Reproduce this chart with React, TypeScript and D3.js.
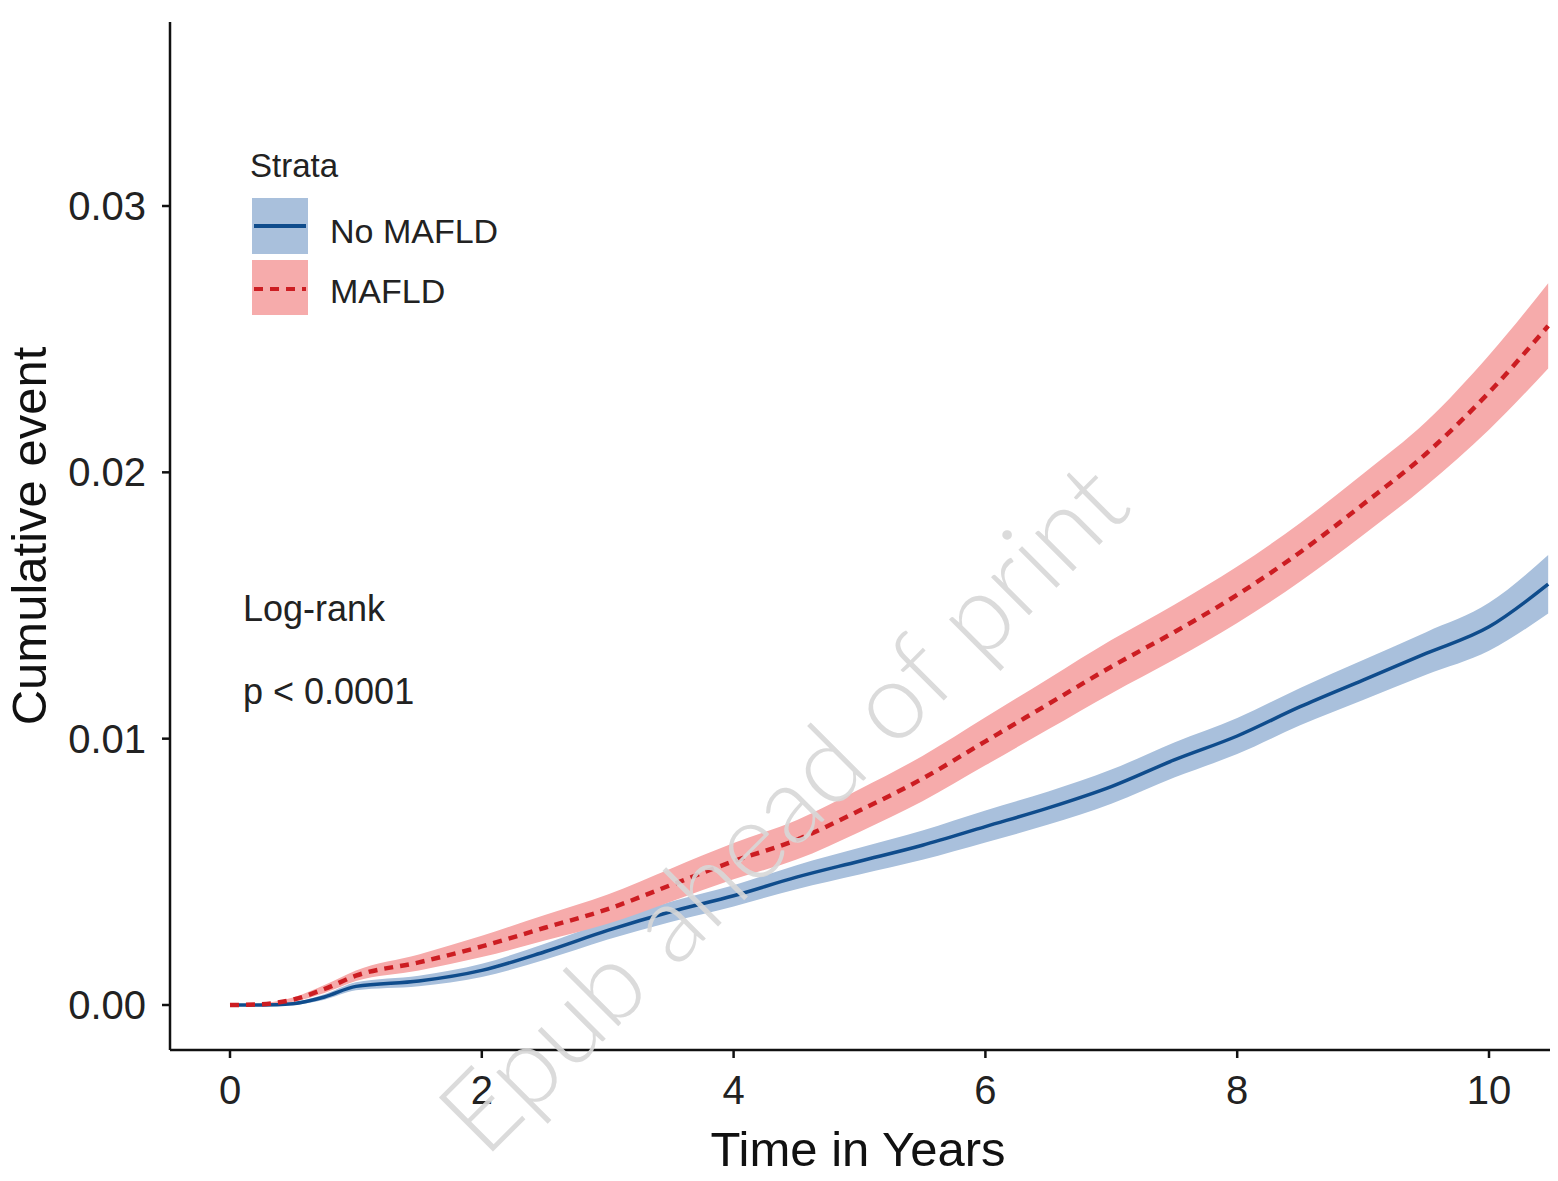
import React from "react";
import * as d3 from "d3";

const times = [0, 0.25, 0.5, 0.75, 1, 1.5, 2, 2.5, 3, 3.5, 4, 4.5, 5, 5.5, 6, 6.5, 7, 7.5, 8, 8.5, 9, 9.5, 10, 10.47];

const noMafld = [0, 0, 0.00005, 0.0003, 0.0007, 0.0009, 0.0013, 0.002, 0.0028, 0.0035, 0.0041, 0.0048, 0.0054, 0.006, 0.0067, 0.0074, 0.0082, 0.0092, 0.0101, 0.0112, 0.0122, 0.0132, 0.0142, 0.0158];
const noMafldLow = [0, 0, 0.00001, 0.0002, 0.00055, 0.0007, 0.00105, 0.0017, 0.00246, 0.00312, 0.0037, 0.00435, 0.0049, 0.00545, 0.0061, 0.00678, 0.00756, 0.00854, 0.00942, 0.0105, 0.01145, 0.0124, 0.0133, 0.0147];
const noMafldHigh = [0, 0, 0.00009, 0.0004, 0.00085, 0.0011, 0.00155, 0.0023, 0.00314, 0.00388, 0.0045, 0.00525, 0.0059, 0.00655, 0.0073, 0.00802, 0.00884, 0.00986, 0.01078, 0.0119, 0.01295, 0.014, 0.0151, 0.0169];

const mafld = [0, 0.00003, 0.0002, 0.0006, 0.0011, 0.0016, 0.0022, 0.0029, 0.0036, 0.0045, 0.0054, 0.0062, 0.0073, 0.0085, 0.0099, 0.0113, 0.0127, 0.014, 0.0154, 0.017, 0.0188, 0.0207, 0.023, 0.0255];
const mafldLow = [0, 0, 0.00012, 0.00045, 0.0009, 0.0013, 0.0018, 0.00242, 0.00305, 0.00388, 0.00472, 0.00546, 0.0065, 0.00765, 0.009, 0.01035, 0.0117, 0.01297, 0.01434, 0.0159, 0.01765, 0.0195, 0.0216, 0.0239];
const mafldHigh = [0, 0.00006, 0.00028, 0.00075, 0.0013, 0.0019, 0.0026, 0.00338, 0.00415, 0.00512, 0.00608, 0.00694, 0.0081, 0.00935, 0.0108, 0.01225, 0.0137, 0.01503, 0.01646, 0.0181, 0.01995, 0.0219, 0.0244, 0.0271];

const xTicks = [0, 2, 4, 6, 8, 10];
const yTicks = [0, 0.01, 0.02, 0.03];
const legendLabels = ["No MAFLD", "MAFLD"];

const FONT = "'Liberation Sans', Arial, sans-serif";

export default function App() {
  const W = 1558, H = 1181;
  const panelL = 170, panelR = 1550, panelT = 22, panelB = 1050;
  const x = d3.scaleLinear().domain([0, 10]).range([230, 1489]);
  const y = d3.scaleLinear().domain([0, 0.03]).range([1005, 206]);

  const linePath = (vals: number[]) =>
    d3.line<number>()
      .x((_, i) => x(times[i]))
      .y(d => y(d))
      .curve(d3.curveMonotoneX)(vals) || "";

  const bandPath = (lo: number[], hi: number[]) =>
    d3.area<number>()
      .x((_, i) => x(times[i]))
      .y0((_, i) => y(lo[i]))
      .y1((_, i) => y(hi[i]))
      .curve(d3.curveMonotoneX)(lo) || "";

  const blue = "#0f4c8c";
  const blueBand = "#a9c0dc";
  const red = "#cc1d22";
  const redBand = "#f6abab";

  return (
    <svg width={W} height={H} style={{ position: "absolute", left: 0, top: 0, background: "#fff" }}>
      <rect x={0} y={0} width={W} height={H} fill="#fff" />
      <path d={bandPath(noMafldLow, noMafldHigh)} fill={blueBand} />
      <path d={bandPath(mafldLow, mafldHigh)} fill={redBand} />
      <path d={linePath(noMafld)} fill="none" stroke={blue} strokeWidth={3.5} />
      <path d={linePath(mafld)} fill="none" stroke={red} strokeWidth={4.5} strokeDasharray="9 7" />

      <line x1={panelL} x2={panelL} y1={panelT} y2={panelB} stroke="#111" strokeWidth={2.5} />
      <line x1={panelL} x2={panelR} y1={panelB} y2={panelB} stroke="#111" strokeWidth={2.5} />
      {yTicks.map(t => (
        <g key={"y" + t}>
          <line x1={panelL - 8} x2={panelL} y1={y(t)} y2={y(t)} stroke="#111" strokeWidth={2.5} />
          <text x={146} y={y(t) + 14} textAnchor="end" fontFamily={FONT} fontSize={40} fill="#222">
            {d3.format(".2f")(t)}
          </text>
        </g>
      ))}
      {xTicks.map(t => (
        <g key={"x" + t}>
          <line x1={x(t)} x2={x(t)} y1={panelB} y2={panelB + 8} stroke="#111" strokeWidth={2.5} />
          <text x={x(t)} y={1104} textAnchor="middle" fontFamily={FONT} fontSize={40} fill="#222">
            {t}
          </text>
        </g>
      ))}
      <text x={858} y={1166} textAnchor="middle" fontFamily={FONT} fontSize={49} fill="#111">
        Time in Years
      </text>
      <text transform="translate(46,536) rotate(-90)" textAnchor="middle" fontFamily={FONT} fontSize={49} fill="#111">
        Cumulative event
      </text>

      <text x={250} y={177} fontFamily={FONT} fontSize={33} fill="#222">Strata</text>
      <rect x={252} y={198} width={56} height={56} fill={blueBand} />
      <line x1={254} x2={306} y1={226} y2={226} stroke={blue} strokeWidth={4} />
      <rect x={252} y={260} width={56} height={55} fill={redBand} />
      <line x1={254} x2={306} y1={289} y2={289} stroke={red} strokeWidth={4} strokeDasharray="9 7" />
      <text x={330} y={243} fontFamily={FONT} fontSize={34} fill="#222">{legendLabels[0]}</text>
      <text x={330} y={303} fontFamily={FONT} fontSize={34} fill="#222">{legendLabels[1]}</text>

      <text x={243} y={621} fontFamily={FONT} fontSize={36} fill="#222">Log-rank</text>
      <text x={243} y={704} fontFamily={FONT} fontSize={36} fill="#222">p &lt; 0.0001</text>

      <text
        transform="translate(780,805) rotate(-45)"
        textAnchor="middle"
        dominantBaseline="central"
        fontFamily="Lato, 'Liberation Sans', sans-serif"
        fontWeight={300}
        fontSize={108}
        fill="#d8d8d8"
        opacity={0.9}
      >
        Epub ahead of print
      </text>
    </svg>
  );
}
